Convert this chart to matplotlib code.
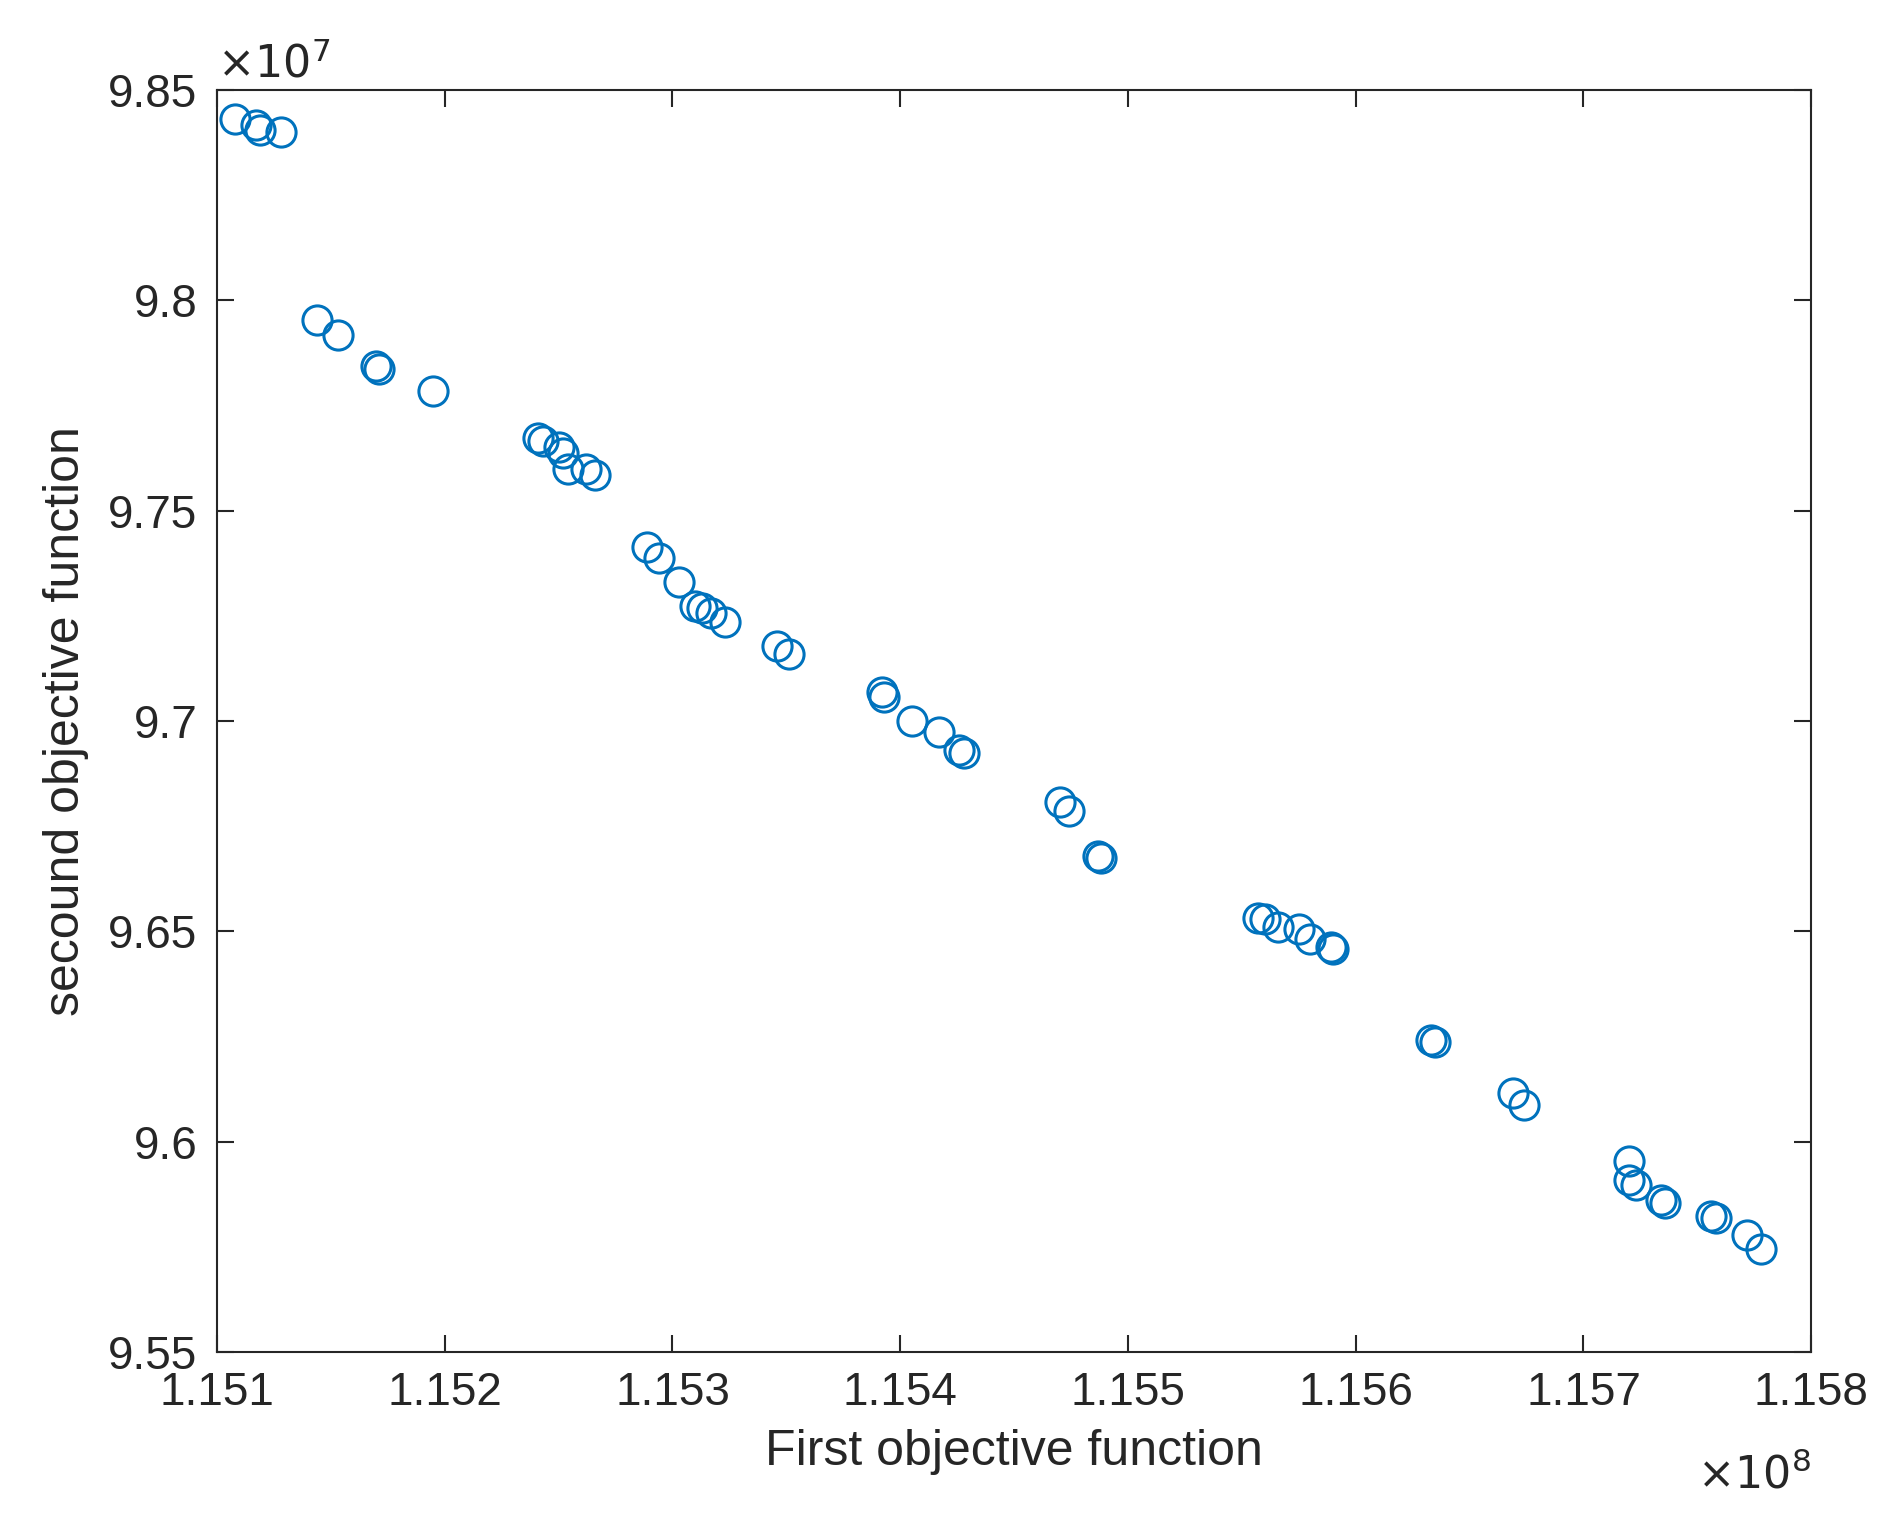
import matplotlib
matplotlib.use("Agg")
import matplotlib.pyplot as plt
import numpy as np
from matplotlib.ticker import FuncFormatter

# First objective (units of 1e5) and second objective (units of 1e7)
first_obj = np.array([
    1151.08, 1151.17, 1151.19, 1151.28, 1151.44, 1151.53, 1151.70, 1151.71, 1151.95,
    1152.41, 1152.43, 1152.50, 1152.52, 1152.54, 1152.62, 1152.66, 1152.89, 1152.94,
    1153.03, 1153.10, 1153.13, 1153.17, 1153.23, 1153.46, 1153.51, 1153.92, 1153.93,
    1154.05, 1154.17, 1154.26, 1154.28, 1154.70, 1154.74, 1154.87, 1154.88, 1155.57,
    1155.60, 1155.66, 1155.75, 1155.80, 1155.89, 1155.90, 1156.33, 1156.35, 1156.69,
    1156.74, 1157.20, 1157.20, 1157.23, 1157.34, 1157.36, 1157.56, 1157.58, 1157.72,
    1157.78]) * 1e5
second_obj = np.array([
    9.8431, 9.8417, 9.8405, 9.8400, 9.7953, 9.7918, 9.7844, 9.7838, 9.7784,
    9.7672, 9.7666, 9.7652, 9.7638, 9.7600, 9.7600, 9.7586, 9.7414, 9.7388,
    9.7331, 9.7274, 9.7268, 9.7256, 9.7236, 9.7179, 9.7159, 9.7070, 9.7056,
    9.7001, 9.6973, 9.6930, 9.6924, 9.6807, 9.6787, 9.6678, 9.6675, 9.6532,
    9.6529, 9.6511, 9.6506, 9.6483, 9.6463, 9.6457, 9.6242, 9.6236, 9.6116,
    9.6087, 9.5953, 9.5910, 9.5898, 9.5861, 9.5855, 9.5824, 9.5818, 9.5778,
    9.5746]) * 1e7

xticks = np.array([1.151, 1.152, 1.153, 1.154, 1.155, 1.156, 1.157, 1.158]) * 1e8
yticks = np.array([9.55, 9.6, 9.65, 9.7, 9.75, 9.8, 9.85]) * 1e7

plt.rcParams['font.family'] = ['Liberation Sans', 'DejaVu Sans']
fig = plt.figure(figsize=(18.8, 15.26), dpi=100)
ax = fig.add_axes([0.1154, 0.114, 0.848, 0.827])

ax.plot(first_obj, second_obj, linestyle='none', marker='o', markersize=21,
        markerfacecolor='none', markeredgecolor='#0072BD', markeredgewidth=2.2)

ax.set_xlim(xticks[0], xticks[-1])
ax.set_ylim(yticks[0], yticks[-1])
ax.set_xticks(xticks)
ax.set_yticks(yticks)
ax.xaxis.set_major_formatter(FuncFormatter(lambda v, p: '{:g}'.format(round(v / 1e8, 4))))
ax.yaxis.set_major_formatter(FuncFormatter(lambda v, p: '{:g}'.format(round(v / 1e7, 4))))
ax.tick_params(direction='in', length=12, width=1.5, top=True, right=True,
               labelsize=33, colors='#262626', pad=14)
for s in ax.spines.values():
    s.set_linewidth(1.5)
    s.set_color('#262626')

ax.set_xlabel('First objective function', fontsize=36, color='#262626', labelpad=10)
ax.set_ylabel('secound objective function', fontsize=36, color='#262626', labelpad=14)

ax.text(0.0, 1.003, r'$\times 10^{7}$', transform=ax.transAxes, fontsize=32,
        color='#262626', ha='left', va='bottom')
ax.text(1.0, -0.08, r'$\times 10^{8}$', transform=ax.transAxes, fontsize=32,
        color='#262626', ha='right', va='top')

fig.savefig('out.png', dpi=100)
